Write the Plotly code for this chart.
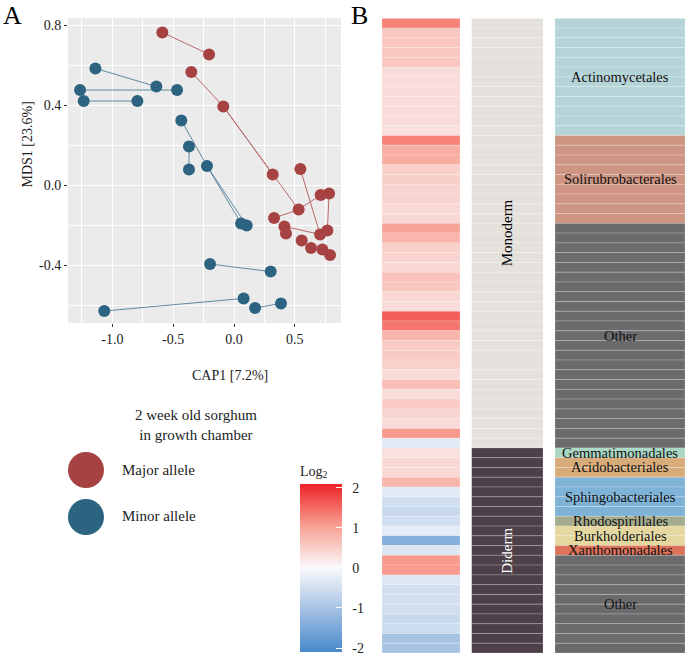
import numpy as np
import plotly.graph_objects as go

FONT = 'Liberation Serif'

# ---- panel A: ordination, major vs minor allele ----
major_x = [-0.589, -0.205, -0.351, -0.088, 0.318, 0.545, 0.712, 0.781, 0.531,
           0.329, 0.414, 0.427, 0.707, 0.767, 0.556, 0.633, 0.726, 0.789]
major_y = [0.763, 0.653, 0.565, 0.393, 0.053, 0.080, -0.050, -0.043, -0.123,
           -0.165, -0.207, -0.242, -0.247, -0.228, -0.278, -0.315, -0.322, -0.350]
major_links = [(0, 1), (2, 3), (3, 4), (3, 8), (8, 9), (8, 6), (7, 13), (5, 12), (10, 12)]

minor_x = [-1.139, -1.265, -0.638, -0.468, -1.235, -0.794, -0.433, -0.370, -0.370,
           -0.222, 0.058, 0.104, -0.197, 0.301, -1.066, 0.079, 0.173, 0.386]
minor_y = [0.583, 0.475, 0.492, 0.475, 0.420, 0.420, 0.323, 0.192, 0.078,
           0.095, -0.192, -0.203, -0.395, -0.433, -0.630, -0.567, -0.615, -0.592]
minor_links = [(0, 2), (1, 3), (4, 5), (6, 9), (9, 10), (9, 11), (7, 8), (12, 13), (14, 15), (16, 17)]

x_ticks = [-1.0, -0.5, 0.0, 0.5]
x_ticktext = ['-1.0', '-0.5', '0.0', '0.5']
y_ticks = [-0.4, 0.0, 0.4, 0.8]
y_ticktext = ['-0.4', '0.0', '0.4', '0.8']

# ---- panel B: log2 fold change per OTU, membrane type and order ----
log2_fc = [1.3, 0.6, 0.6, 0.6, 0.6, 0.35, 0.35, 0.35, 0.35, 0.35, 0.35, 0.3,
           1.3, 0.9, 0.9, 0.5, 0.5, 0.45, 0.45, 0.4, 0.4, 1.0, 0.8, 0.5, 0.45,
           0.4, 0.65, 0.6, 0.4, 0.35, 1.6, 1.4, 0.8, 0.55, 0.55, 0.5, 0.35, 0.7,
           0.35, 0.55, 0.45, 0.35, 1.1, -0.3,
           0.3, 0.4, 0.4, 0.8, -0.3, -0.5, -0.6, -0.5, -0.25, -1.4, -0.35, 1.1,
           1.1, -0.35, -0.5, -0.5, -0.5, -0.6, -0.55, -1.0, -1.0]
membranes = ['Monoderm', 'Diderm']
membrane_counts = [44, 21]
membrane_colors = ['#E4E0DC', '#4E4049']
membrane_text = ['black', 'white']
orders = ['Actinomycetales', 'Solirubrobacterales', 'Other', 'Gemmatimonadales',
          'Acidobacteriales', 'Sphingobacteriales', 'Rhodospirillales',
          'Burkholderiales', 'Xanthomonadales', 'Other']
order_counts = [12, 9, 23, 1, 2, 4, 1, 2, 1, 10]
order_colors = ['#B4D4D7', '#CF9583', '#6B6B6E', '#A9D7C3', '#D8AC79', '#7EB2D7',
                '#A6AD8C', '#E4D8A0', '#DE735C', '#6B6B6E']
cbar_ticks = [-2, -1, 0, 1, 2]
cbar_ticktext = ['-2', '-1', '0', '1', '2']

RED, BLUE = '#A64342', '#2C6380'
W, H = 685, 656

fig = go.Figure()


def add_links(xs, ys, links, color):
    lx, ly = [], []
    for a, b in links:
        lx += [xs[a], xs[b], None]
        ly += [ys[a], ys[b], None]
    fig.add_trace(go.Scatter(x=lx, y=ly, mode='lines', line=dict(color=color, width=1),
                             showlegend=False, hoverinfo='skip'))


add_links(major_x, major_y, major_links, '#B86A6A')
add_links(minor_x, minor_y, minor_links, '#5F8AA0')
fig.add_trace(go.Scatter(x=major_x, y=major_y, mode='markers', name='Major allele',
                         marker=dict(color=RED, size=12), showlegend=False))
fig.add_trace(go.Scatter(x=minor_x, y=minor_y, mode='markers', name='Minor allele',
                         marker=dict(color=BLUE, size=12), showlegend=False))

# heatmap column as unit bars
n = len(log2_fc)
rows = np.arange(n)
bar_line = dict(color='rgba(255,255,255,0.35)', width=0.6)
fig.add_trace(go.Bar(
    x=[0] * n, y=[1] * n, base=rows, width=1, xaxis='x2', yaxis='y2',
    marker=dict(color=log2_fc, cmin=-2.1, cmax=2.1, line=bar_line,
                colorscale=[[0, '#4689CB'], [0.25, '#A3C0E3'], [0.5, '#FAFAFC'],
                            [0.75, '#F8A092'], [1, '#EE2226']],
                colorbar=dict(x=300 / W, xanchor='left', xpad=0, y=1 - 557 / H,
                              yanchor='middle', ypad=0, len=190, lenmode='pixels',
                              thickness=42, outlinewidth=0, ticks='inside',
                              ticklen=6, tickcolor='white', tickvals=cbar_ticks,
                              ticktext=['\u00a0\u00a0' + t for t in cbar_ticktext],
                              ticklabeloverflow='allow',
                              tickfont=dict(family=FONT, size=14, color='#222'),
                              title=dict(text='Log<sub>2</sub>', side='top',
                                         font=dict(family=FONT, size=14, color='#222')))),
    showlegend=False))

mem_colors = np.repeat(membrane_colors, membrane_counts)
fig.add_trace(go.Bar(x=[0] * n, y=[1] * n, base=rows, width=1, xaxis='x3', yaxis='y2',
                     marker=dict(color=list(mem_colors), line=bar_line), showlegend=False))
ord_colors = np.repeat(order_colors, order_counts)
fig.add_trace(go.Bar(x=[0] * n, y=[1] * n, base=rows, width=1, xaxis='x4', yaxis='y2',
                     marker=dict(color=list(ord_colors), line=bar_line), showlegend=False))

ann = []
starts = np.cumsum([0] + membrane_counts[:-1])
for name, s, c, tc in zip(membranes, starts, membrane_counts, membrane_text):
    ann.append(dict(x=0, y=s + c / 2, xref='x3', yref='y2', text=name, textangle=-90,
                    showarrow=False, font=dict(family=FONT, size=15, color=tc)))
starts = np.cumsum([0] + order_counts[:-1])
for name, s, c in zip(orders, starts, order_counts):
    ann.append(dict(x=0, y=s + c / 2, xref='x4', yref='y2', text=name, borderpad=0,
                    showarrow=False, font=dict(family=FONT, size=14.5, color='#111')))


def paper_text(x, y, text, size=15, **kw):
    d = dict(x=x / W, y=1 - y / H, xref='paper', yref='paper', text=text,
             yanchor='middle', showarrow=False,
             font=dict(family=FONT, size=size, color='#222'))
    d.update(kw)
    return d


# titles, legend and panel letters
ann += [
    paper_text(190, 375, 'CAP1 [7.2%]', 14),
    paper_text(17, 145, 'MDS1 [23.6%]', 14, textangle=-90),
    paper_text(133, 425, '2 week old sorghum<br>in growth chamber'),
    paper_text(120, 470, 'Major allele', xanchor='left'),
    paper_text(120, 516, 'Minor allele', xanchor='left'),
    dict(x=2 / W, y=1, xref='paper', yref='paper', text='A', xanchor='left',
         yanchor='top', borderpad=0, showarrow=False,
         font=dict(family=FONT, size=26, color='black')),
    dict(x=350 / W, y=1, xref='paper', yref='paper', text='B', xanchor='left',
         yanchor='top', borderpad=0, showarrow=False,
         font=dict(family=FONT, size=26, color='black')),
]

shapes = [
    dict(type='rect', xref='x domain', yref='y domain', x0=0, x1=1, y0=0, y1=1,
         fillcolor='#EBEBEB', line_width=0, layer='below'),
    dict(type='circle', xref='paper', yref='paper', x0=68 / W, x1=104 / W,
         y0=1 - 488 / H, y1=1 - 452 / H, fillcolor=RED, line_width=0),
    dict(type='circle', xref='paper', yref='paper', x0=68 / W, x1=104 / W,
         y0=1 - 535 / H, y1=1 - 499 / H, fillcolor=BLUE, line_width=0),
]

col_axis = dict(range=[-0.5, 0.5], showgrid=False, zeroline=False, showticklabels=False,
                fixedrange=True)
fig.update_layout(
    width=W, height=H, margin=dict(l=0, r=0, t=0, b=0),
    paper_bgcolor='white', plot_bgcolor='white', barmode='overlay',
    font=dict(family=FONT, color='#222'),
    xaxis=dict(domain=[68 / W, 341 / W], range=[-1.364, 0.879], tickvals=x_ticks,
               ticktext=x_ticktext, showgrid=True, gridcolor='white', gridwidth=1.4,
               zeroline=False, ticks='outside', ticklen=3, tickcolor='#333',
               tickfont=dict(family=FONT, size=14, color='#222'),
               minor=dict(dtick=0.25, tick0=0, showgrid=True, gridcolor='white',
                          gridwidth=0.6)),
    yaxis=dict(domain=[1 - 323 / H, 1 - 18 / H], range=[-0.69, 0.835], tickvals=y_ticks,
               ticktext=y_ticktext, showgrid=True, gridcolor='white', gridwidth=1.4,
               zeroline=False, ticks='outside', ticklen=3, tickcolor='#333',
               tickfont=dict(family=FONT, size=14, color='#222'),
               minor=dict(dtick=0.2, tick0=0, showgrid=True, gridcolor='white',
                          gridwidth=0.6)),
    xaxis2=dict(domain=[382 / W, 460 / W], anchor='y2', **col_axis),
    xaxis3=dict(domain=[471.5 / W, 543 / W], anchor='y2', **col_axis),
    xaxis4=dict(domain=[555 / W, 1.0], anchor='y2', **col_axis),
    yaxis2=dict(domain=[1 - 653 / H, 1 - 18.3 / H], anchor='x2', range=[n, 0],
                showgrid=False, zeroline=False, showticklabels=False, fixedrange=True),
    annotations=ann, shapes=shapes,
)

# drop the browser's default body margin so the figure fills the window exactly
fig.write_html('out.html', config={'displayModeBar': False},
               post_script="document.body.style.margin='0';")
